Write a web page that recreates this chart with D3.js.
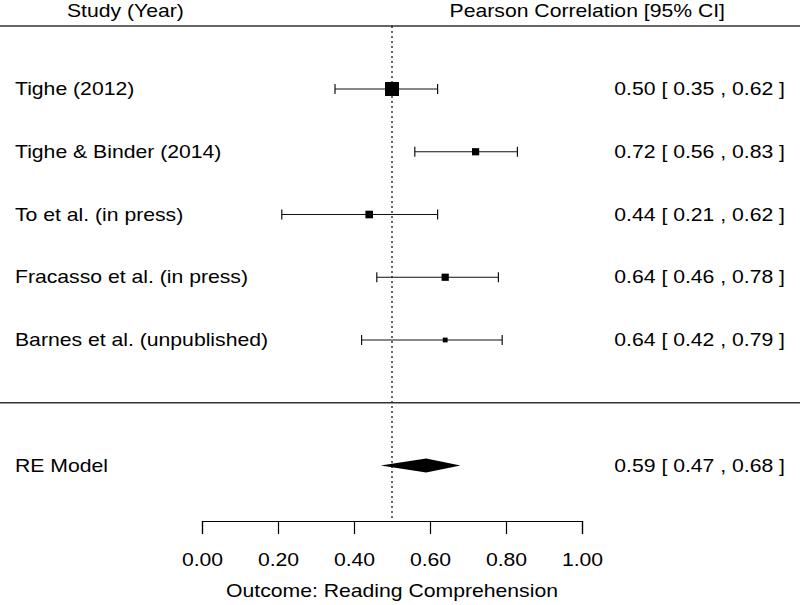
<!DOCTYPE html>
<html>
<head>
<meta charset="utf-8">
<script src="https://cdn.jsdelivr.net/npm/d3@7/dist/d3.min.js"></script>
<style>
  html, body { margin: 0; padding: 0; background: #fff; }
  svg { display: block; }
  text { font-family: "Liberation Sans", Arial, sans-serif; fill: #000; }
</style>
</head>
<body>
<svg id="chart" width="800" height="605"></svg>
<script>
// ---- data ----
const studies = ["Tighe (2012)", "Tighe & Binder (2014)", "To et al. (in press)", "Fracasso et al. (in press)", "Barnes et al. (unpublished)"];
const estimates = [0.50, 0.72, 0.44, 0.64, 0.64];
const lower = [0.35, 0.56, 0.21, 0.46, 0.42];
const upper = [0.62, 0.83, 0.62, 0.78, 0.79];
const weights = [35, 18, 19, 18, 12];
const modelLabel = "RE Model";
const modelEst = 0.59, modelLo = 0.47, modelHi = 0.68;
const refValue = 0.50;
const tickValues = [0, 0.2, 0.4, 0.6, 0.8, 1.0];
const xTitle = "Outcome: Reading Comprehension";
const headLeft = "Study (Year)";
const headRight = "Pearson Correlation [95% CI]";

// ---- layout ----
const W = 800, H = 605;
const svg = d3.select("#chart");
const fmt = d3.format(".2f");
const fs = 19;
const sx = 1.115; // horizontal stretch of the text

function addText(str, tx, ty, anchor) {
  return svg.append("text")
    .attr("transform", `translate(${tx},${ty}) scale(${sx},1)`)
    .attr("font-size", fs)
    .attr("text-anchor", anchor || "start")
    .text(str);
}

const x = d3.scaleLinear().domain([0, 1]).range([202, 582]);
// row index -> y
const y = d3.scaleLinear().domain([0, 1]).range([89, 89 + 62.75]);
const size = d3.scaleLinear().domain([0, d3.max(weights)]).range([0, 14]);

const headerLineY = 26;
const sepY = y(5);
const modelY = y(6);
const axisY = 521;

// header
addText(headLeft, 67, 17, "start");
addText(headRight, 725, 17, "end");
svg.append("line").attr("x1", 0).attr("x2", W).attr("y1", headerLineY).attr("y2", headerLineY)
  .attr("stroke", "#333").attr("stroke-width", 1.3);

// reference dotted line
svg.append("line").attr("x1", x(refValue)).attr("x2", x(refValue))
  .attr("y1", headerLineY).attr("y2", axisY - 2)
  .attr("stroke", "#000").attr("stroke-width", 1.2).attr("stroke-dasharray", "2,3");

// separator
svg.append("line").attr("x1", 0).attr("x2", W).attr("y1", sepY).attr("y2", sepY)
  .attr("stroke", "#333").attr("stroke-width", 1.3);

const data = studies.map((s, i) => ({ s, est: estimates[i], lo: lower[i], hi: upper[i], w: weights[i], i }));

const rows = svg.selectAll("g.row").data(data).enter().append("g").attr("class", "row");
rows.append("line")
  .attr("x1", d => x(d.lo)).attr("x2", d => x(d.hi))
  .attr("y1", d => y(d.i)).attr("y2", d => y(d.i))
  .attr("stroke", "#111").attr("stroke-width", 1.2);
rows.append("line")
  .attr("x1", d => x(d.lo)).attr("x2", d => x(d.lo))
  .attr("y1", d => y(d.i) - 5).attr("y2", d => y(d.i) + 5)
  .attr("stroke", "#111").attr("stroke-width", 1.2);
rows.append("line")
  .attr("x1", d => x(d.hi)).attr("x2", d => x(d.hi))
  .attr("y1", d => y(d.i) - 5).attr("y2", d => y(d.i) + 5)
  .attr("stroke", "#111").attr("stroke-width", 1.2);
rows.append("rect")
  .attr("x", d => x(d.est) - size(d.w) / 2).attr("y", d => y(d.i) - size(d.w) / 2)
  .attr("width", d => size(d.w)).attr("height", d => size(d.w))
  .attr("fill", "#000");

data.forEach(d => {
  addText(d.s, 15, y(d.i) + 6, "start");
  addText(`${fmt(d.est)} [ ${fmt(d.lo)} , ${fmt(d.hi)} ]`, 785, y(d.i) + 6, "end");
});

// model diamond
const dh = 7;
svg.append("path")
  .attr("d", `M${x(modelLo)},${modelY} L${x(modelEst)},${modelY - dh} L${x(modelHi)},${modelY} L${x(modelEst)},${modelY + dh} Z`)
  .attr("fill", "#000");
addText(modelLabel, 15, modelY + 6, "start");
addText(`${fmt(modelEst)} [ ${fmt(modelLo)} , ${fmt(modelHi)} ]`, 785, modelY + 6, "end");

// axis
const axis = d3.axisBottom(x).tickValues(tickValues).tickFormat(fmt).tickSize(13).tickPadding(19);
const ag = svg.append("g").attr("transform", `translate(0,${axisY})`).call(axis);
ag.select(".domain").attr("stroke", "#000").attr("stroke-width", 1.2);
ag.selectAll(".tick line").attr("stroke", "#000").attr("stroke-width", 1.2);
ag.selectAll(".tick text")
  .attr("font-size", fs)
  .attr("font-family", "Liberation Sans, Arial, sans-serif")
  .attr("fill", "#000")
  .attr("transform", `scale(${sx},1)`);

addText(xTitle, x(0.5), 597, "middle");
</script>
</body>
</html>
